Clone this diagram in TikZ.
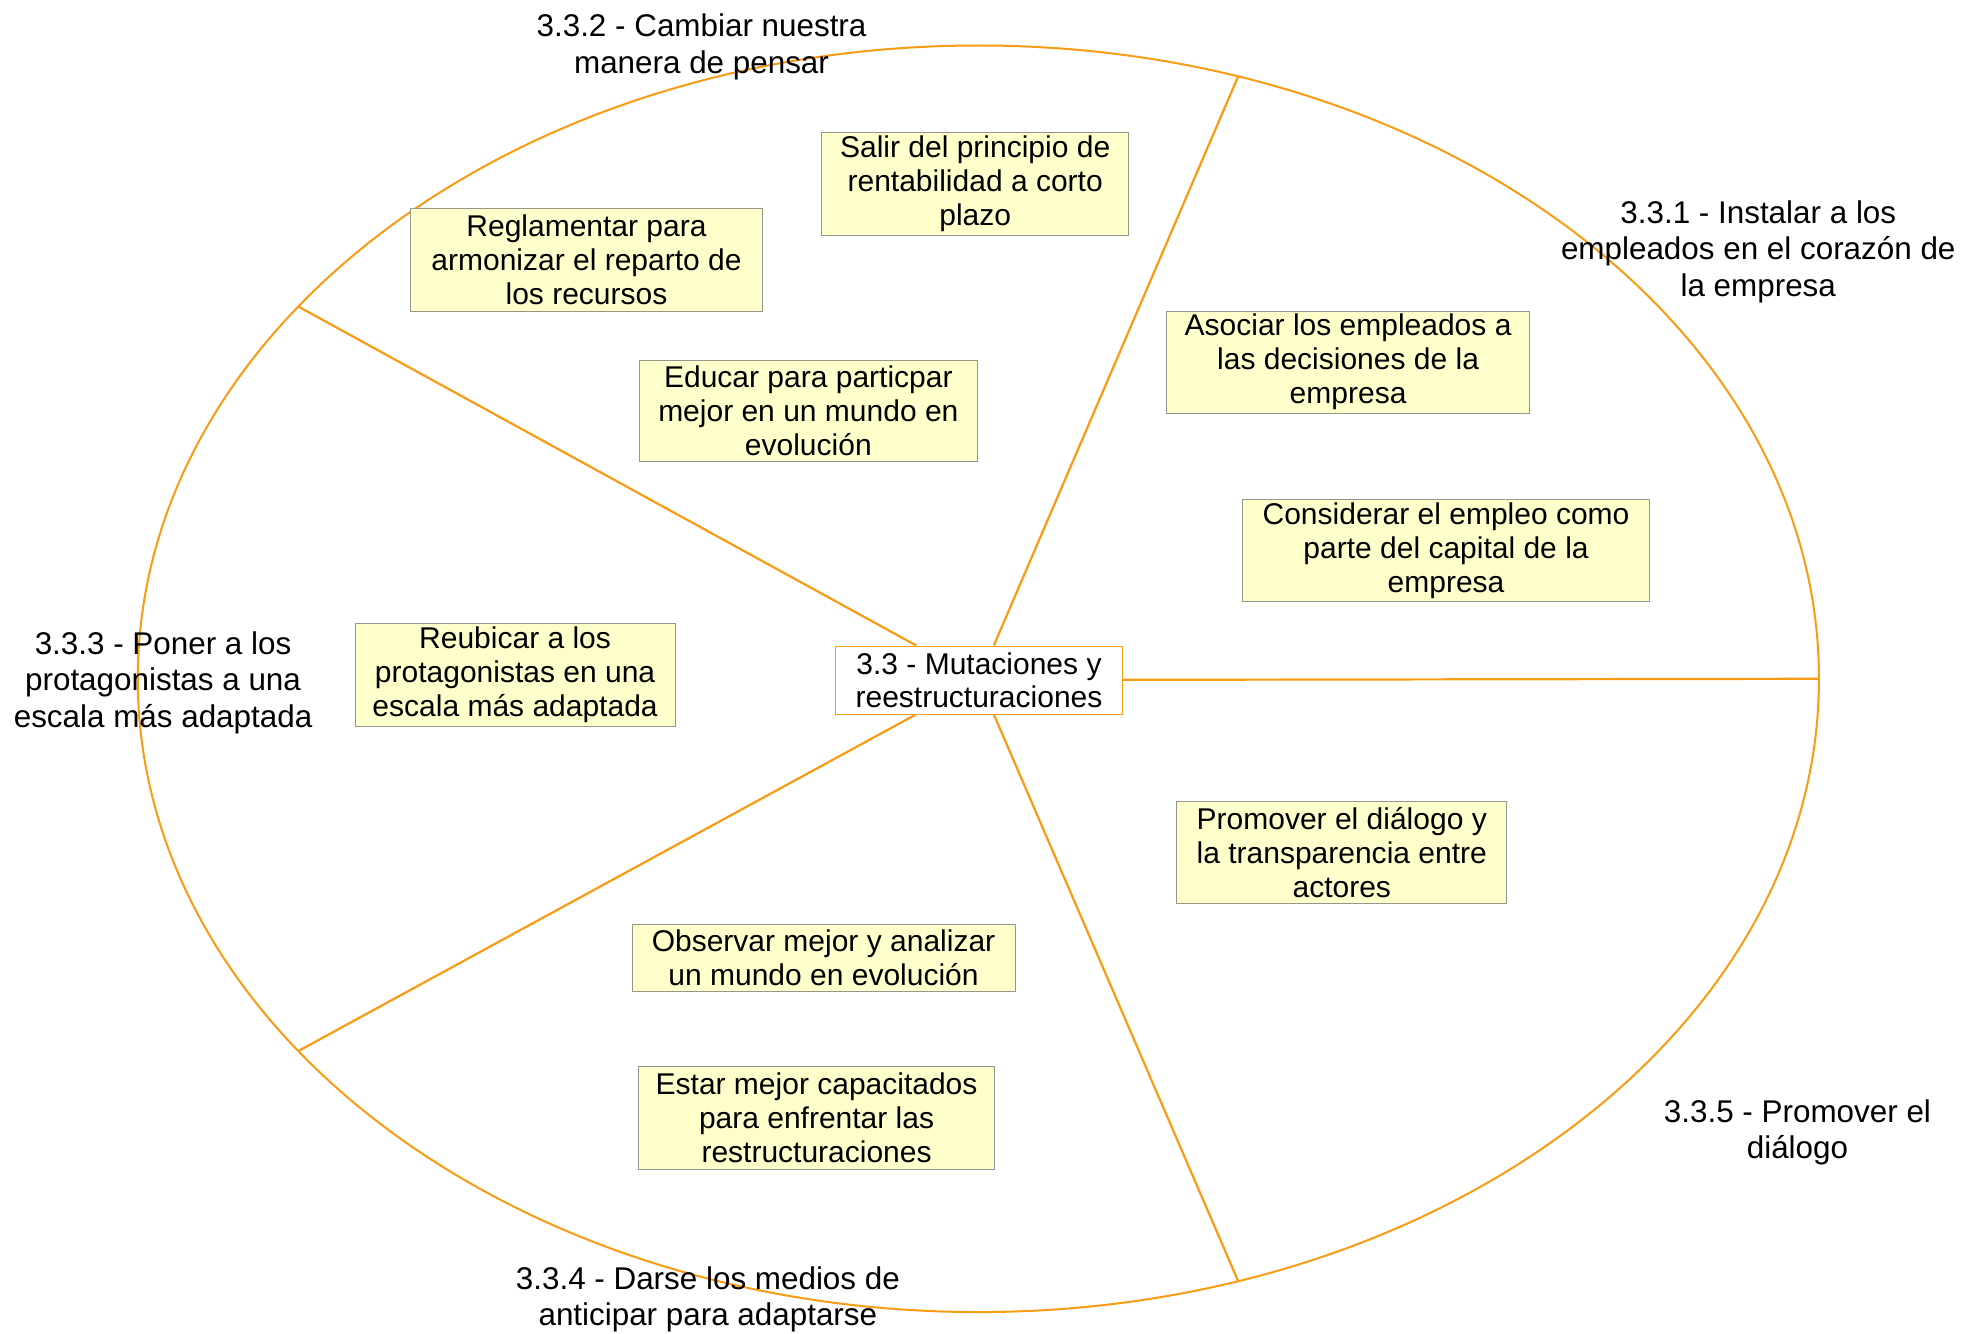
\documentclass[tikz,border=0pt]{standalone}
\usepackage{fontspec}
\setmainfont{Liberation Sans}
\definecolor{mapline}{RGB}{250,155,20}
\definecolor{notefill}{RGB}{255,255,204}
\definecolor{noteline}{RGB}{150,150,140}
\begin{document}
\begin{tikzpicture}[x=0.632pt,y=-0.632pt,
	note/.style={draw=noteline,fill=notefill,align=center,inner sep=1pt,font=\fontsize{15}{17}\selectfont},
	branch/.style={align=center,inner sep=0pt,font=\fontsize{15.7}{18.3}\selectfont},
	spoke/.style={mapline,line width=1.1pt}]
	\useasboundingbox (0,0) rectangle (1568,1055);
	\coordinate (o) at (774,537);
	\draw[mapline,line width=1pt] (o) ellipse [x radius=665,y radius=501];
	\foreach \a [count=\i] in {0,72,144,216,288}
		\coordinate (e\i) at ({774+665*cos(\a)},{537-501*sin(\a)});
	\node[draw=mapline,fill=white,align=center,inner sep=1pt,minimum width=143.5pt,minimum height=34.1pt,font=\fontsize{15}{16.4}\selectfont] (c) at (774.5,538) {3.3 - Mutaciones y\\reestructuraciones};
	\draw[spoke] (c) -- (e1);
	\draw[spoke] (c) -- (e2);
	\draw[spoke] (c) -- (e3);
	\draw[spoke] (c) -- (e4);
	\draw[spoke] (c) -- (e5);
	% notes
	\node[note,minimum width=153.6pt,minimum height=51.2pt] (sal) at (771.5,145.5) {Salir del principio de\\rentabilidad a corto\\plazo};
	\node[note,minimum width=175.7pt,minimum height=51.2pt] (reg) at (464,205.5) {Reglamentar para\\armonizar el reparto de\\los recursos};
	\node[note,minimum width=168.7pt,minimum height=50.6pt] (edu) at (639.5,325) {Educar para particpar\\mejor en un mundo en\\evolución};
	\node[note,minimum width=181.4pt,minimum height=51.2pt] (aso) at (1066.5,286.5) {Asociar los empleados a\\las decisiones de la\\empresa};
	\node[note,minimum width=203.5pt,minimum height=51.2pt] (con) at (1144,435.5) {Considerar el empleo como\\parte del capital de la\\empresa};
	\node[note,minimum width=159.9pt,minimum height=51.8pt] (reu) at (407.5,534) {Reubicar a los\\protagonistas en una\\escala más adaptada};
	\node[note,minimum width=165pt,minimum height=51.2pt] (pro) at (1061.5,674.5) {Promover el diálogo y\\la transparencia entre\\actores};
	\node[note,minimum width=191.5pt,minimum height=33.5pt] (obs) at (651.5,757.5) {Observar mejor y analizar\\un mundo en evolución};
	\node[note,minimum width=178.2pt,minimum height=51.2pt] (est) at (646,884.5) {Estar mejor capacitados\\para enfrentar las\\restructuraciones};
	% branch titles
	\node[branch] (b1) at (1391,199) {3.3.1 - Instalar a los\\empleados en el corazón de\\la empresa};
	\node[branch] (b2) at (555,37) {3.3.2 - Cambiar nuestra\\manera de pensar};
	\node[branch] (b3) at (129,540) {3.3.3 - Poner a los\\protagonistas a una\\escala más adaptada};
	\node[branch] (b4) at (560,1028) {3.3.4 - Darse los medios de\\anticipar para adaptarse};
	\node[branch] (b5) at (1422,896) {3.3.5 - Promover el\\diálogo};
\end{tikzpicture}
\end{document}
